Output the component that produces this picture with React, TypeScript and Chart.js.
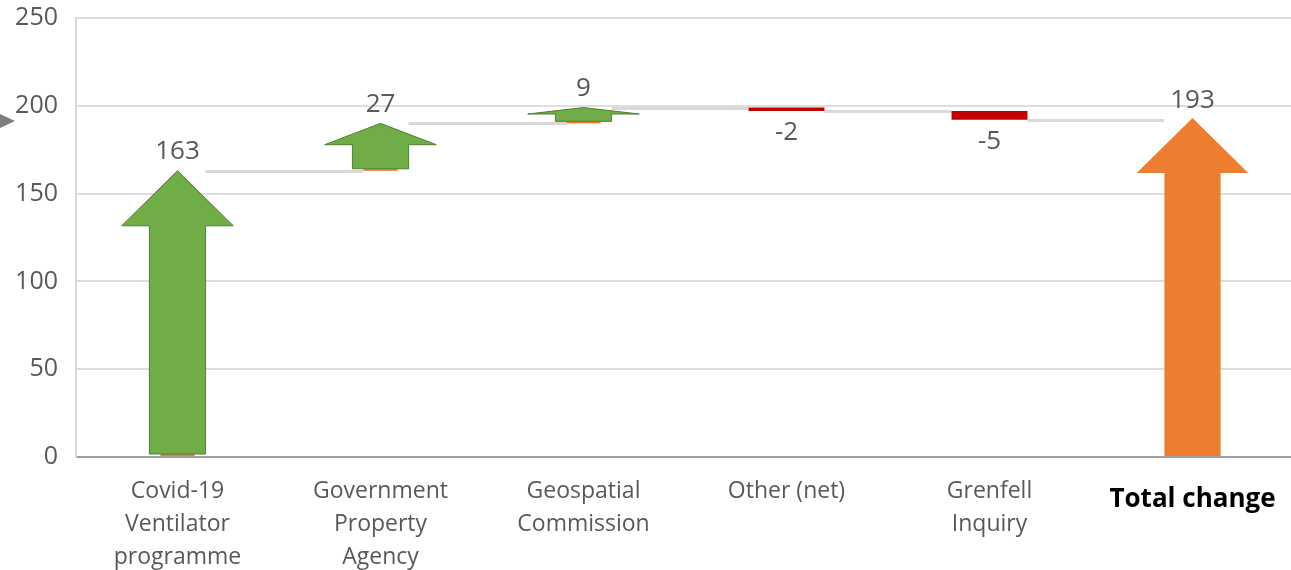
import React, { useEffect, useRef } from "react";
import { Chart, registerables } from "chart.js";

Chart.register(...registerables);

// ---- Data ----
const categories: (string | string[])[] = [
  ["Covid-19", "Ventilator", "programme"],
  ["Government", "Property", "Agency"],
  ["Geospatial", "Commission"],
  "Other (net)",
  ["Grenfell", "Inquiry"],
  "Total change",
];
const changes = [163, 27, 9, -2, -5];
const totalChange = 193;
const valueLabels = ["163", "27", "9", "-2", "-5", "193"];
const yTickValues = [0, 50, 100, 150, 200, 250];

// floating bars [start, end] built from the changes (waterfall)
const starts: number[] = [];
const ends: number[] = [];
{
  let run = 0;
  for (const c of changes) {
    starts.push(run);
    run += c;
    ends.push(run);
  }
  starts.push(0);
  ends.push(totalChange);
}
const floating = starts.map((s, i) => [s, ends[i]]);
const lastIndex = categories.length - 1;

const GREEN = "#70AD47";
const GREEN_DARK = "#507E32";
const ORANGE = "#ED7D31";
const RED = "#C00000";
const TEXT = "#595959";
const FONT = "'Open Sans', sans-serif";

const kindOf = (i: number) =>
  i === lastIndex ? "total" : changes[i] >= 0 ? "up" : "down";

const waterfallPlugin = {
  id: "waterfallArrows",
  beforeDatasetsDraw(chart: any) {
    const meta = chart.getDatasetMeta(0);
    const y = chart.scales.y;
    const ctx = chart.ctx;
    ctx.save();
    ctx.strokeStyle = "#d9d9d9";
    ctx.lineWidth = 3;
    for (let i = 0; i < lastIndex; i++) {
      const el = meta.data[i];
      const nx = meta.data[i + 1];
      const w = el.width;
      const yy = Math.round(y.getPixelForValue(ends[i])) + 0.5;
      const k = kindOf(i);
      const kn = kindOf(i + 1);
      const x0 = el.x + (k === "down" ? w / 2 : (w * 0.74) / 2);
      const x1 =
        nx.x -
        (kn === "down" ? w / 2 : kn === "total" ? (w * 0.74) / 2 : (w * 0.45) / 2);
      ctx.beginPath();
      ctx.moveTo(x0, yy);
      ctx.lineTo(x1, yy);
      ctx.stroke();
    }
    ctx.restore();
  },
  afterDatasetsDraw(chart: any) {
    const meta = chart.getDatasetMeta(0);
    const ctx = chart.ctx;
    ctx.save();
    meta.data.forEach((el: any, i: number) => {
      const k = kindOf(i);
      const w = el.width;
      const tip = el.y;
      const base = el.base;
      if (k !== "down") {
        const shaft = w * 0.74;
        const headW = w * 1.47;
        const bottom = k === "up" ? base - 2 : base;
        const len = bottom - tip;
        const head = Math.min(55, len * 0.47);
        const hb = tip + head;
        if (k === "up") {
          ctx.fillStyle = ORANGE;
          ctx.fillRect(el.x - (w * 0.45) / 2, base - 2, w * 0.45, 2);
        }
        ctx.beginPath();
        ctx.moveTo(el.x, tip);
        ctx.lineTo(el.x + headW / 2, hb);
        ctx.lineTo(el.x + shaft / 2, hb);
        ctx.lineTo(el.x + shaft / 2, bottom);
        ctx.lineTo(el.x - shaft / 2, bottom);
        ctx.lineTo(el.x - shaft / 2, hb);
        ctx.lineTo(el.x - headW / 2, hb);
        ctx.closePath();
        ctx.fillStyle = k === "up" ? GREEN : ORANGE;
        ctx.fill();
        if (k === "up") {
          ctx.strokeStyle = GREEN_DARK;
          ctx.lineWidth = 1;
          ctx.stroke();
        }
      }
      // value labels
      ctx.font = `26px ${FONT}`;
      ctx.fillStyle = TEXT;
      ctx.textAlign = "center";
      ctx.textBaseline = "middle";
      if (k === "down") {
        const bottom = Math.max(el.y, el.base);
        ctx.fillText(valueLabels[i], el.x, bottom + 22);
      } else {
        ctx.fillText(valueLabels[i], el.x, tip - (k === "total" ? 17 : 19));
      }
    });
    // small grey pointer at the left edge
    ctx.fillStyle = "#7f7f7f";
    ctx.beginPath();
    ctx.moveTo(0, 114);
    ctx.lineTo(15, 121);
    ctx.lineTo(0, 128);
    ctx.closePath();
    ctx.fill();
    ctx.restore();
  },
};

export default function App() {
  const ref = useRef<HTMLCanvasElement | null>(null);
  useEffect(() => {
    if (!ref.current) return;
    const chart = new Chart(ref.current, {
      type: "bar",
      data: {
        labels: categories as any,
        datasets: [
          {
            data: floating as any,
            backgroundColor: categories.map((_, i) =>
              kindOf(i) === "down" ? RED : "rgba(0,0,0,0)"
            ),
            borderWidth: 0,
            barPercentage: 0.374,
            categoryPercentage: 1,
          },
        ],
      },
      options: {
        responsive: false,
        animation: false,
        devicePixelRatio: 1,
        layout: { padding: { top: 18, right: 6, left: 0, bottom: 0 } },
        plugins: {
          legend: { display: false },
          tooltip: { enabled: false },
          title: { display: false },
        },
        scales: {
          x: {
            offset: true,
            grid: { display: false, drawTicks: false },
            border: { display: true, color: "#a0a0a0", width: 2 },
            ticks: {
              autoSkip: false,
              maxRotation: 0,
              minRotation: 0,
              padding: 18,
              color: (c: any) => (c.index === lastIndex ? "#000000" : TEXT),
              font: (c: any) =>
                c.index === lastIndex
                  ? { family: FONT, size: 26, weight: "bold", lineHeight: 1.88 }
                  : { family: FONT, size: 23, lineHeight: 1.43 },
            },
            afterFit: (s: any) => {
              s.height = 113;
              s.paddingLeft = 0;
              s.paddingRight = 0;
            },
          },
          y: {
            min: 0,
            max: 250,
            afterBuildTicks: (s: any) => {
              s.ticks = yTickValues.map((v) => ({ value: v }));
            },
            grid: { color: "#dedede", lineWidth: 2, drawTicks: false },
            border: { display: true, color: "#d9d9d9", width: 2 },
            ticks: {
              padding: 18,
              color: TEXT,
              font: { family: FONT, size: 25 },
            },
            afterFit: (s: any) => {
              s.width = 76;
              s.paddingTop = 0;
              s.paddingBottom = 0;
            },
          },
        },
      },
      plugins: [waterfallPlugin],
    });
    return () => chart.destroy();
  }, []);
  return (
    <div
      style={{
        position: "fixed",
        left: 0,
        top: 0,
        width: 1291,
        height: 570,
        overflow: "hidden",
        background: "#fff",
      }}
    >
      <canvas ref={ref} width={1300} height={570} style={{ display: "block" }} />
    </div>
  );
}
